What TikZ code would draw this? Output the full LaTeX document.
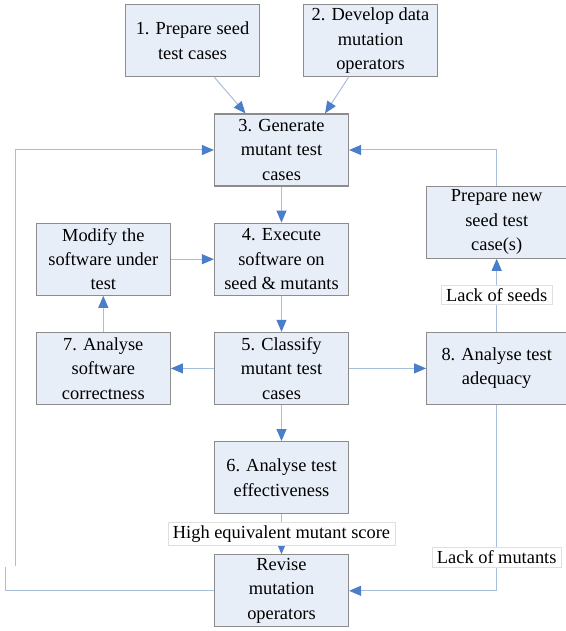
\documentclass[tikz,border=0pt]{standalone}
\usepackage{fontspec}
\setmainfont{Liberation Serif}
\usetikzlibrary{arrows.meta,positioning,calc}
\definecolor{boxfill}{HTML}{E8EEF8}
\definecolor{boxline}{HTML}{8C8C8C}
\definecolor{wirec}{HTML}{A9BEDD}
\definecolor{tipblue}{HTML}{4A7EC8}
\tikzset{
  proc/.style={rectangle, draw=boxline, line width=0.6pt, fill=boxfill, align=center,
               font=\fontsize{9.2}{12.2}\selectfont, minimum width=67pt, minimum height=36pt, inner sep=1pt},
  tag/.style={rectangle, draw=gray!25, line width=0.4pt, fill=white,
              font=\fontsize{9.2}{12.2}\selectfont, inner xsep=2.5pt, inner ysep=1.5pt},
  arr/.style={-{Triangle[length=6pt,width=5pt,color=tipblue]}, line width=0.5pt, draw=wirec},
  wire/.style={line width=0.5pt, draw=wirec},
}
\begin{document}
\begin{tikzpicture}[node distance=18pt]
  \useasboundingbox (-140.75pt,75pt) rectangle (142.25pt,-240.5pt);
  \node[proc] (gen) {3. Generate\\mutant test\\cases};
  \node[proc, above=of gen, xshift=-44.5pt] (seed) {1. Prepare seed\\test cases};
  \node[proc, above=of gen, xshift=44.5pt] (ops) {2. Develop data\\mutation\\operators};
  \node[proc, below=of gen] (exec) {4. Execute\\software on\\seed \& mutants};
  \node[proc, left=21.5pt of exec] (modify) {Modify the\\software under\\test};
  \node[proc, below=of exec] (classify) {5. Classify\\mutant test\\cases};
  \node[proc, left=21.5pt of classify] (correct) {7. Analyse\\software\\correctness};
  \node[proc, right=38.5pt of classify, minimum width=70pt] (adeq) {8. Analyse test\\adequacy};
  \node[proc, above=36.5pt of adeq, minimum width=70pt] (newseed) {Prepare new\\seed test\\case(s)};
  \node[proc, below=of classify] (effect) {6. Analyse test\\effectiveness};
  \node[proc, below=20pt of effect] (revise) {Revise\\mutation\\operators};
  \coordinate (lo) at (-137.75pt,-208.5pt);
  \coordinate (hi) at (-132.75pt,-208pt);
  % main flow
  \draw[arr] ([xshift=11pt]seed.south) -- ([xshift=-18pt]gen.north);
  \draw[arr] ([xshift=-11pt]ops.south) -- ([xshift=21.75pt]gen.north);
  \draw[arr] (gen) -- (exec);
  \draw[arr] (exec) -- (classify);
  \draw[arr] (classify) -- (effect);
  \draw[arr] (classify) -- (correct);
  \draw[arr] (classify) -- (adeq);
  \draw[arr] (correct) -- (modify);
  \draw[arr] (modify) -- (exec);
  % feedback loops
  \draw[arr] (effect) -- node[tag] {High equivalent mutant score} (revise);
  \draw[arr] (adeq) -- node[tag] {Lack of seeds} (newseed);
  \draw[arr] (newseed.north) |- (gen.east);
  \draw[arr] (adeq.south) |- node[tag, pos=0.41] {Lack of mutants} (revise.east);
  \draw[wire] (revise.west) -| (lo);
  \draw[arr] (hi) |- (gen.west);
\end{tikzpicture}
\end{document}
